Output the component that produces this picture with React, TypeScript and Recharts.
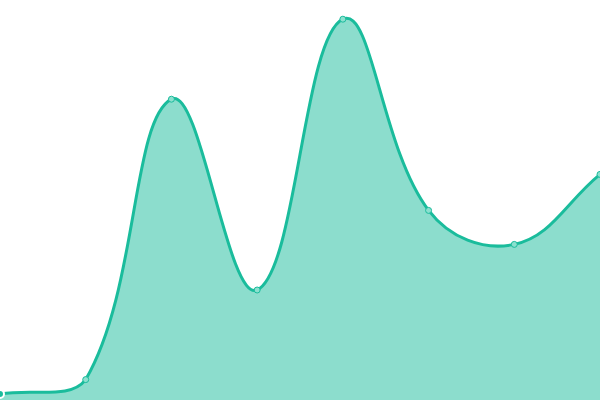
import { AreaChart, Area, XAxis, YAxis } from "recharts";

const labels = ["A", "B", "C", "D", "E", "F", "G", "H"];
const values = [1.5, 5.1, 75.2, 27.5, 95.2, 47.4, 38.9, 56.4];

const data = labels.map((name, i) => ({ name, value: values[i] }));

const W = 600;
const H = 400;
const TENSION = 0.4;

// spline like Chart.js (tension 0.4, control points kept inside the plot)
const smoothCurve = (context: any) => {
  let line = NaN;
  let pts: number[][] = [];
  const cap = (v: number, max: number) => Math.max(0, Math.min(max, v));
  return {
    areaStart() {
      line = 0;
    },
    areaEnd() {
      line = NaN;
    },
    lineStart() {
      pts = [];
    },
    lineEnd() {
      const n = pts.length;
      if (n) {
        if (line) context.lineTo(pts[0][0], pts[0][1]);
        else context.moveTo(pts[0][0], pts[0][1]);
        if (n === 2) {
          context.lineTo(pts[1][0], pts[1][1]);
        } else if (n > 2) {
          const cps = pts.map((p, i) => {
            const prev = pts[Math.max(i - 1, 0)];
            const next = pts[Math.min(i + 1, n - 1)];
            const d01 = Math.hypot(p[0] - prev[0], p[1] - prev[1]);
            const d12 = Math.hypot(next[0] - p[0], next[1] - p[1]);
            let s01 = d01 / (d01 + d12);
            let s12 = d12 / (d01 + d12);
            if (isNaN(s01)) s01 = 0;
            if (isNaN(s12)) s12 = 0;
            const fa = TENSION * s01;
            const fb = TENSION * s12;
            const dx = next[0] - prev[0];
            const dy = next[1] - prev[1];
            return {
              prev: [cap(p[0] - fa * dx, W), cap(p[1] - fa * dy, H)],
              next: [cap(p[0] + fb * dx, W), cap(p[1] + fb * dy, H)],
            };
          });
          for (let i = 1; i < n; i++) {
            const a = cps[i - 1].next;
            const b = cps[i].prev;
            context.bezierCurveTo(a[0], a[1], b[0], b[1], pts[i][0], pts[i][1]);
          }
        }
      }
      if (line || (line !== 0 && n === 1)) context.closePath();
      line = 1 - line;
    },
    point(x: number, y: number) {
      pts.push([+x, +y]);
    },
  };
};

export default function App() {
  return (
    <div style={{ width: W, height: H, background: "#fff" }}>
      <style>{"body{margin:0}"}</style>
      <AreaChart width={W} height={H} data={data} margin={{ top: 0, right: 0, bottom: 0, left: 0 }}>
        <XAxis dataKey="name" hide />
        <YAxis hide domain={[0, 100]} />
        <Area
          type={smoothCurve as any}
          dataKey="value"
          stroke="#1abc9c"
          strokeWidth={3}
          fill="#1abc9c"
          fillOpacity={0.5}
          dot={{ r: 3, fill: "#8ce0cf", stroke: "#1abc9c", strokeWidth: 1, fillOpacity: 1 }}
          isAnimationActive={false}
        />
      </AreaChart>
    </div>
  );
}
